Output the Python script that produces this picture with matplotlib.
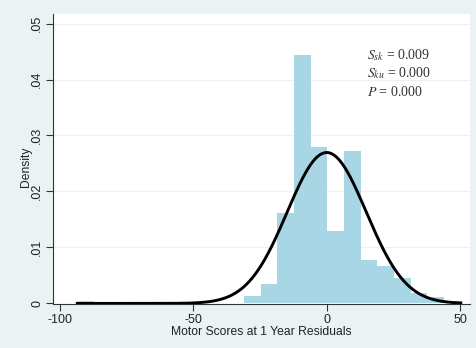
import numpy as np
import matplotlib
matplotlib.use("Agg")
import matplotlib.pyplot as plt

# ---- data ----
bin_edges = [-93.5, -87.25, -81.0, -74.75, -68.5, -62.25, -56.0, -49.75, -43.5,
             -37.25, -31.0, -24.75, -18.5, -12.25, -6.0, 0.25, 6.5, 12.75, 19.0,
             25.25, 31.5, 37.75, 44.0, 50.25]
densities = [0.0005, 0, 0, 0, 0, 0, 0, 0, 0, 0,
             0.0013, 0.0034, 0.0162, 0.0444, 0.0279, 0.0129, 0.0273, 0.0078,
             0.0066, 0.0045, 0.0019, 0.0012, 0.0004]
normal_mean = 0.0
normal_sd = 14.8
xticks = [-100, -50, 0, 50]
xtick_labels = ["-100", "-50", "0", "50"]
yticks = [0, 0.01, 0.02, 0.03, 0.04, 0.05]
ytick_labels = ["0", ".01", ".02", ".03", ".04", ".05"]
stats_lines = [r"$S_{sk}$ = 0.009", r"$S_{ku}$ = 0.000", r"$P$ = 0.000"]
xlabel = "Motor Scores at 1 Year Residuals"
ylabel = "Density"

plt.rcParams['font.family'] = ['Liberation Sans', 'DejaVu Sans']
plt.rcParams['mathtext.fontset'] = 'stix'

bg = (234/255, 242/255, 243/255)
bar_color = "#a9d6e4"
axis_color = "#333333"

fig = plt.figure(figsize=(4.77, 3.48), dpi=100, facecolor=bg)
ax = fig.add_axes([53/477, 1 - 304/348, (470-53)/477, (304-14)/348])
ax.set_facecolor("white")

edges = np.array(bin_edges)
ax.bar(edges[:-1], densities, width=np.diff(edges), align='edge',
       color=bar_color, edgecolor='none', linewidth=0, zorder=2)

xs = np.linspace(bin_edges[0], bin_edges[-1], 600)
ys = np.exp(-0.5 * ((xs - normal_mean) / normal_sd) ** 2) / (normal_sd * np.sqrt(2 * np.pi))
ax.plot(xs, ys, color="black", lw=2.1, zorder=3)

ax.set_xlim(-102.6, 53.7)
ax.set_ylim(-0.0001, 0.0517)
ax.set_xticks(xticks)
ax.set_xticklabels(xtick_labels)
ax.set_yticks(yticks)
ax.set_yticklabels(ytick_labels, rotation=90, va='center')

for y in yticks[1:]:
    ax.axhline(y, color=bg, lw=0.8, zorder=1)

for s in ['top', 'right']:
    ax.spines[s].set_visible(False)
for s in ['left', 'bottom']:
    ax.spines[s].set_color(axis_color)
    ax.spines[s].set_linewidth(0.8)
ax.tick_params(axis='both', direction='out', length=5, width=0.8,
               color=axis_color, labelsize=9, labelcolor="#222222", pad=2)

ax.set_xlabel(xlabel, fontsize=8.7, color="#222222", labelpad=0)
ax.set_ylabel(ylabel, fontsize=8.7, color="#222222")
ax.yaxis.set_label_coords((32 - 53) / 417, (304 - 167) / 290)

x0 = 367
for i, line in enumerate(stats_lines):
    fig.text(x0/477, 1 - (55 + i*18.5)/348, line, fontsize=10,
             family='Liberation Serif', color="#333333", va='center', ha='left')

fig.savefig("out.png", dpi=100, facecolor=bg)
